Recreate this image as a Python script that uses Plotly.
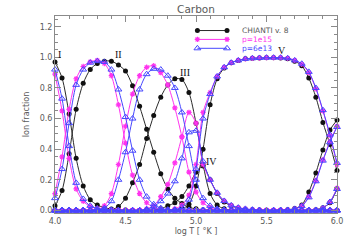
import plotly.graph_objects as go

# ---------------- data ----------------
log_t = [4.00, 4.05, 4.10, 4.15, 4.20, 4.25, 4.30, 4.35, 4.40, 4.45,
         4.50, 4.55, 4.60, 4.65, 4.70, 4.75, 4.80, 4.85, 4.90, 4.95,
         5.00, 5.05, 5.10, 5.15, 5.20, 5.25, 5.30, 5.35, 5.40, 5.45,
         5.50, 5.55, 5.60, 5.65, 5.70, 5.75, 5.80, 5.85, 5.90, 5.95,
         6.00]

# CHIANTI v. 8
chianti_c1 = [0.97, 0.865, 0.63, 0.34, 0.16, 0.07, 0.035, 0.018, 0.009, 0.004,
              0.002, 0, 0, 0, 0, 0, 0, 0, 0, 0,
              0, 0, 0, 0, 0, 0, 0, 0, 0, 0,
              0, 0, 0, 0, 0, 0, 0, 0, 0, 0,
              0]
chianti_c2 = [0.03, 0.13, 0.37, 0.66, 0.83, 0.92, 0.96, 0.975, 0.975, 0.95,
              0.91, 0.815, 0.68, 0.53, 0.38, 0.24, 0.14, 0.08, 0.045, 0.02,
              0.01, 0.004, 0.002, 0, 0, 0, 0, 0, 0, 0,
              0, 0, 0, 0, 0, 0, 0, 0, 0, 0,
              0]
chianti_c3 = [0, 0, 0, 0, 0, 0, 0, 0.002, 0.005, 0.025,
              0.08, 0.18, 0.30, 0.47, 0.62, 0.74, 0.82, 0.86, 0.855, 0.77,
              0.57, 0.30, 0.11, 0.035, 0.01, 0.003, 0, 0, 0, 0,
              0, 0, 0, 0, 0, 0, 0, 0, 0, 0,
              0]
chianti_c4 = [0, 0, 0, 0, 0, 0, 0, 0, 0, 0,
              0, 0, 0, 0, 0.003, 0.01, 0.03, 0.05, 0.09, 0.16,
              0.25, 0.29, 0.20, 0.11, 0.055, 0.03, 0.015, 0.008, 0.004, 0.002,
              0, 0, 0, 0, 0, 0, 0, 0, 0, 0,
              0]
chianti_c5 = [0, 0, 0, 0, 0, 0, 0, 0, 0, 0,
              0, 0, 0, 0, 0, 0, 0, 0.003, 0.01, 0.04,
              0.16, 0.40, 0.69, 0.86, 0.93, 0.965, 0.98, 0.99, 0.994, 0.996,
              0.997, 0.997, 0.996, 0.99, 0.975, 0.945, 0.865, 0.74, 0.575, 0.43,
              0.26]
chianti_c6 = [0, 0, 0, 0, 0, 0, 0, 0, 0, 0,
              0, 0, 0, 0, 0, 0, 0, 0, 0, 0,
              0, 0, 0, 0, 0, 0, 0, 0, 0, 0,
              0, 0.001, 0.002, 0.005, 0.012, 0.035, 0.12, 0.245, 0.395, 0.525,
              0.59]
chianti_c7 = [0, 0, 0, 0, 0, 0, 0, 0, 0, 0,
              0, 0, 0, 0, 0, 0, 0, 0, 0, 0,
              0, 0, 0, 0, 0, 0, 0, 0, 0, 0,
              0, 0, 0, 0, 0, 0, 0.001, 0.005, 0.018, 0.05,
              0.14]

# p = 1e15
p15_c1 = [0.89, 0.65, 0.34, 0.14, 0.06, 0.025, 0.012, 0.006, 0.003, 0.001,
          0, 0, 0, 0, 0, 0, 0, 0, 0, 0,
          0, 0, 0, 0, 0, 0, 0, 0, 0, 0,
          0, 0, 0, 0, 0, 0, 0, 0, 0, 0,
          0]
p15_c2 = [0.11, 0.35, 0.66, 0.86, 0.94, 0.97, 0.98, 0.96, 0.88, 0.69,
          0.44, 0.23, 0.11, 0.05, 0.02, 0.008, 0.003, 0.001, 0, 0,
          0, 0, 0, 0, 0, 0, 0, 0, 0, 0,
          0, 0, 0, 0, 0, 0, 0, 0, 0, 0,
          0]
p15_c3 = [0, 0, 0, 0, 0, 0.001, 0.005, 0.03, 0.11, 0.30,
          0.55, 0.76, 0.88, 0.935, 0.945, 0.90, 0.82, 0.67, 0.48, 0.25,
          0.12, 0.05, 0.02, 0.007, 0.002, 0, 0, 0, 0, 0,
          0, 0, 0, 0, 0, 0, 0, 0, 0, 0,
          0]
p15_c4 = [0, 0, 0, 0, 0, 0, 0, 0, 0, 0,
          0, 0, 0, 0.01, 0.03, 0.09, 0.17, 0.31, 0.48, 0.64,
          0.57, 0.30, 0.20, 0.115, 0.062, 0.033, 0.018, 0.01, 0.005, 0.002,
          0, 0, 0, 0, 0, 0, 0, 0, 0, 0,
          0]
p15_c5 = [0, 0, 0, 0, 0, 0, 0, 0, 0, 0,
          0, 0, 0, 0, 0, 0, 0, 0.01, 0.035, 0.10,
          0.30, 0.64, 0.77, 0.875, 0.935, 0.965, 0.98, 0.99, 0.994, 0.996,
          0.998, 0.998, 0.998, 0.994, 0.98, 0.955, 0.90, 0.795, 0.65, 0.49,
          0.30]
p15_c6 = [0, 0, 0, 0, 0, 0, 0, 0, 0, 0,
          0, 0, 0, 0, 0, 0, 0, 0, 0, 0,
          0, 0, 0, 0, 0, 0, 0, 0, 0, 0,
          0, 0, 0.001, 0.003, 0.01, 0.03, 0.09, 0.195, 0.33, 0.45,
          0.55]
p15_c7 = [0, 0, 0, 0, 0, 0, 0, 0, 0, 0,
          0, 0, 0, 0, 0, 0, 0, 0, 0, 0,
          0, 0, 0, 0, 0, 0, 0, 0, 0, 0,
          0, 0, 0, 0, 0, 0, 0.001, 0.003, 0.015, 0.055,
          0.145]

# p = 6e13
p13_c1 = [0.92, 0.73, 0.42, 0.18, 0.075, 0.03, 0.013, 0.006, 0.003, 0.001,
          0, 0, 0, 0, 0, 0, 0, 0, 0, 0,
          0, 0, 0, 0, 0, 0, 0, 0, 0, 0,
          0, 0, 0, 0, 0, 0, 0, 0, 0, 0,
          0]
p13_c2 = [0.08, 0.27, 0.57, 0.82, 0.92, 0.965, 0.975, 0.97, 0.92, 0.79,
          0.61, 0.39, 0.20, 0.09, 0.04, 0.015, 0.005, 0.002, 0, 0,
          0, 0, 0, 0, 0, 0, 0, 0, 0, 0,
          0, 0, 0, 0, 0, 0, 0, 0, 0, 0,
          0]
p13_c3 = [0, 0, 0, 0, 0, 0, 0.002, 0.015, 0.06, 0.20,
          0.38, 0.60, 0.79, 0.89, 0.925, 0.92, 0.88, 0.80, 0.64, 0.42,
          0.20, 0.08, 0.03, 0.01, 0.003, 0, 0, 0, 0, 0,
          0, 0, 0, 0, 0, 0, 0, 0, 0, 0,
          0]
p13_c4 = [0, 0, 0, 0, 0, 0, 0, 0, 0, 0,
          0, 0, 0, 0.008, 0.025, 0.06, 0.11, 0.19, 0.34, 0.51,
          0.52, 0.32, 0.20, 0.115, 0.062, 0.033, 0.018, 0.01, 0.005, 0.002,
          0, 0, 0, 0, 0, 0, 0, 0, 0, 0,
          0]
p13_c5 = [0, 0, 0, 0, 0, 0, 0, 0, 0, 0,
          0, 0, 0, 0, 0, 0, 0, 0.005, 0.02, 0.07,
          0.27, 0.60, 0.76, 0.875, 0.935, 0.965, 0.98, 0.99, 0.994, 0.996,
          0.998, 0.998, 0.998, 0.994, 0.98, 0.958, 0.905, 0.80, 0.655, 0.495,
          0.31]
p13_c6 = [0, 0, 0, 0, 0, 0, 0, 0, 0, 0,
          0, 0, 0, 0, 0, 0, 0, 0, 0, 0,
          0, 0, 0, 0, 0, 0, 0, 0, 0, 0,
          0, 0, 0.001, 0.003, 0.01, 0.028, 0.085, 0.19, 0.325, 0.445,
          0.545]
p13_c7 = [0, 0, 0, 0, 0, 0, 0, 0, 0, 0,
          0, 0, 0, 0, 0, 0, 0, 0, 0, 0,
          0, 0, 0, 0, 0, 0, 0, 0, 0, 0,
          0, 0, 0, 0, 0, 0, 0.001, 0.003, 0.015, 0.055,
          0.14]

series_names = ["CHIANTI v. 8", "p=1e15", "p=6e13"]
ion_labels = ["I", "II", "III", "IV", "V"]

# ---------------- style ----------------
BLACK = "#111111"
LINE_BLACK = "#2a2a2a"
MAGENTA = "#ff33ee"
BLUE = "#4646ff"
GRAY = "#5a5a5a"
AXIS = "#8a8a8a"
FONT = "DejaVu Sans"

styles = [
    dict(color=LINE_BLACK, marker=dict(symbol="circle", size=5, color=BLACK)),
    dict(color=MAGENTA, marker=dict(symbol="asterisk-open", size=4.5,
                                    color=MAGENTA, line=dict(color=MAGENTA, width=1.2))),
    dict(color=BLUE, marker=dict(symbol="triangle-up-open", size=6,
                                 color=BLUE, line=dict(color=BLUE, width=1))),
]

sets = [
    [chianti_c1, chianti_c2, chianti_c3, chianti_c4, chianti_c5, chianti_c6, chianti_c7],
    [p15_c1, p15_c2, p15_c3, p15_c4, p15_c5, p15_c6, p15_c7],
    [p13_c1, p13_c2, p13_c3, p13_c4, p13_c5, p13_c6, p13_c7],
]

fig = go.Figure()
for st, ions in zip(styles, sets):
    for ys in ions:
        fig.add_trace(go.Scatter(
            x=log_t, y=ys, mode="lines+markers",
            line=dict(color=st["color"], width=1, shape="spline", smoothing=0.8),
            marker=st["marker"], showlegend=False, cliponaxis=False,
            hoverinfo="skip"))

# legend keys (line with a marker at each end)
leg_x = [5.01, 5.22]
leg_rows = [1.175, 1.117, 1.059]
leg_text_x = 5.31
leg_colors = [GRAY, MAGENTA, BLUE]
for st, ry, name, tc in zip(styles, leg_rows, series_names, leg_colors):
    fig.add_trace(go.Scatter(
        x=leg_x, y=[ry, ry], mode="lines+markers",
        line=dict(color=st["color"], width=1), marker=st["marker"],
        showlegend=False, hoverinfo="skip", cliponaxis=False))
    fig.add_annotation(x=leg_text_x, y=ry, text=name, showarrow=False,
                       xanchor="left", yanchor="middle",
                       font=dict(size=7.5, color=tc, family=FONT))

# ion labels
ion_pos = [(4.03, 1.02), (4.45, 1.02), (4.92, 0.9), (5.11, 0.32), (5.61, 1.045)]
for lab, (lx, ly) in zip(ion_labels, ion_pos):
    fig.add_annotation(x=lx, y=ly, text=lab, showarrow=False,
                       xanchor="center", yanchor="middle",
                       font=dict(size=10, color="#111111", family="Liberation Serif"))

axis_common = dict(
    showline=True, linecolor=AXIS, linewidth=1, mirror="allticks",
    ticks="inside", ticklen=6, tickcolor=AXIS, tickwidth=1,
    showgrid=False, zeroline=False,
    tickfont=dict(size=8, color=GRAY, family=FONT),
)

fig.update_xaxes(range=[4.0, 6.0], dtick=0.5, tick0=4.0, tickformat=".1f",
                 minor=dict(dtick=0.1, ticks="inside", ticklen=3, tickcolor=AXIS),
                 title=dict(text="log T [ \u00b0K ]", standoff=3,
                            font=dict(size=8, color=GRAY, family=FONT)),
                 **axis_common)
fig.update_yaxes(range=[-0.017, 1.27], dtick=0.2, tick0=0, tickformat=".1f",
                 minor=dict(dtick=0.05, ticks="inside", ticklen=3, tickcolor=AXIS),
                 title=dict(text="Ion fraction", standoff=8,
                            font=dict(size=8, color=GRAY, family=FONT)),
                 **axis_common)

fig.update_layout(
    width=355, height=248,
    margin=dict(l=55, r=18, t=16, b=35),
    paper_bgcolor="white", plot_bgcolor="white",
    font=dict(family=FONT, size=8, color=GRAY),
    title=dict(text="Carbon", x=0.5, xref="paper", xanchor="center",
               y=0.962, yref="container", yanchor="middle",
               font=dict(size=10.5, color=GRAY, family=FONT)),
    showlegend=False,
)

fig.write_html("out.html", config={"displayModeBar": False},
               post_script="document.body.style.margin='0';")
